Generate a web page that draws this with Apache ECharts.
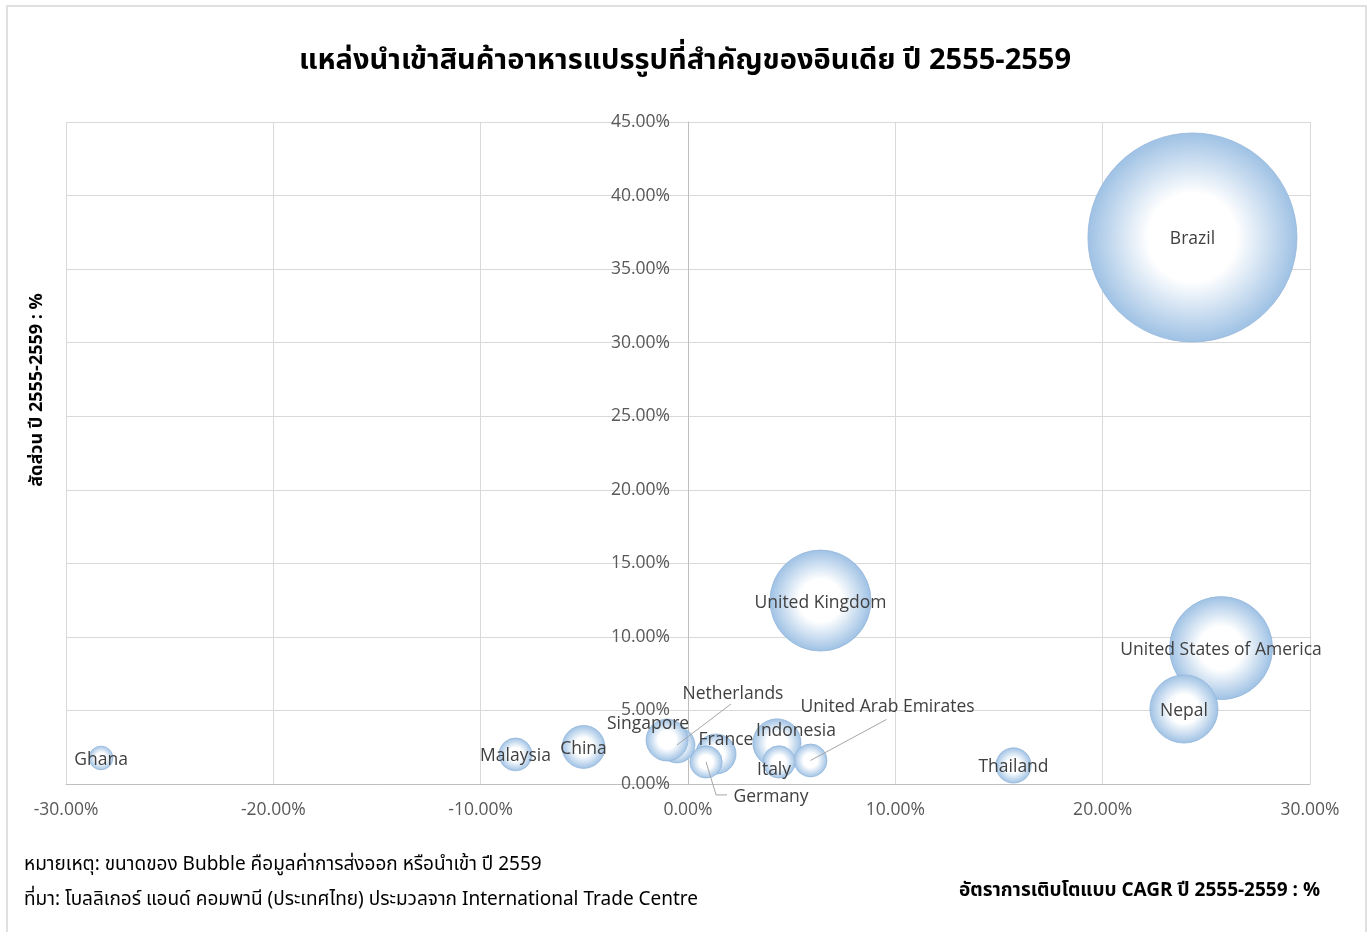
<!DOCTYPE html>
<html>
<head>
<meta charset="utf-8">
<title>แหล่งนำเข้าสินค้าอาหารแปรรูปที่สำคัญของอินเดีย</title>
<script src="https://cdn.jsdelivr.net/npm/echarts@6/dist/echarts.min.js"></script>
<style>
  html, body { margin: 0; padding: 0; background: #fff; }
  #chart { width: 1370px; height: 932px; }
</style>
</head>
<body>
<div id="chart"></div>
<script>
// Importing countries, CAGR 2555-2559 (%), share 2555-2559 (%), import value 2559 (bubble size)
const countries = ['Brazil', 'United Kingdom', 'United States of America', 'Nepal', 'Thailand',
  'Indonesia', 'United Arab Emirates', 'Italy', 'France', 'Germany', 'Netherlands',
  'Singapore', 'China', 'Malaysia', 'Ghana'];
const cagr = [24.33, 6.39, 25.71, 23.92, 15.70, 4.29, 5.91, 4.39, 1.35, 0.87, -0.53, -1.01, -5.04, -8.32, -28.31];
const share = [37.15, 12.47, 9.24, 5.10, 1.26, 2.79, 1.60, 1.50, 2.04, 1.50, 2.65, 2.99, 2.52, 2.01, 1.77];
const importValue = [1092, 255, 265, 116, 31, 58, 27, 26, 40, 26, 32, 44, 46, 27, 14];

const xTicks = [-30, -20, -10, 0, 10, 20, 30];
const yTicks = [0, 5, 10, 15, 20, 25, 30, 35, 40, 45];

// label placement for crowded bubbles (pixel offsets from the bubble centre)
const labelShift = {
  'Singapore': [-19, -16],
  'Netherlands': [56, -51],
  'France': [10, -14],
  'Indonesia': [19, -12],
  'Italy': [-5, 8],
  'United Arab Emirates': [77, -53],
  'Germany': [65, 35]
};
// leader-line bends, relative to the bubble centre
const leaderPath = {
  'Netherlands': [[54, -41]],
  'United Arab Emirates': [[76, -41]],
  'Germany': [[10, 33], [21, 33]]
};

const maxValue = Math.max.apply(null, importValue);
const maxDiameter = 209;

const GRID_LEFT = 66, GRID_RIGHT = 60;
const CHART_W = 1370;

const thaiFont = '"Noto Sans Thai", "Liberation Sans", Arial, sans-serif';
const labelFont = '"Open Sans", "Noto Sans", sans-serif';

const bubbleFill = {
  type: 'radial', x: 0.5, y: 0.5, r: 0.5,
  colorStops: [
    { offset: 0, color: '#ffffff' },
    { offset: 0.42, color: '#ffffff' },
    { offset: 1, color: '#9ec1e4' }
  ]
};

const data = countries.map(function (name, i) {
  return { name: name, value: [cagr[i], share[i], importValue[i]] };
});

// the value axis crosses the category axis at x = 0
const plotW = CHART_W - GRID_LEFT - GRID_RIGHT;
const zeroOffset = plotW * (0 - xTicks[0]) / (xTicks[xTicks.length - 1] - xTicks[0]);

const pctFmt = function (v) { return v.toFixed(2) + '%'; };

const chart = echarts.init(document.getElementById('chart'), null, { renderer: 'canvas' });

const baseGraphics = [
  {
    type: 'rect',
    shape: { x: 7, y: 6, width: 1359, height: 940 },
    style: { fill: 'none', stroke: '#e0e0e0', lineWidth: 2 },
    silent: true
  },
  {
    type: 'text',
    x: 38, y: 390,
    rotation: Math.PI / 2,
    style: {
      text: 'สัดส่วน ปี 2555-2559 : %',
      fontFamily: thaiFont, fontSize: 18, fontWeight: 'bold', fill: '#000',
      align: 'center', verticalAlign: 'middle'
    }
  },
  {
    type: 'text',
    x: 24, y: 866,
    style: {
      text: 'หมายเหตุ: ขนาดของ Bubble คือมูลค่าการส่งออก หรือนำเข้า ปี 2559',
      fontFamily: thaiFont, fontSize: 19, fill: '#000',
      align: 'left', verticalAlign: 'middle'
    }
  },
  {
    type: 'text',
    x: 24, y: 901,
    style: {
      text: 'ที่มา: โบลลิเกอร์ แอนด์ คอมพานี (ประเทศไทย) ประมวลจาก International Trade Centre',
      fontFamily: thaiFont, fontSize: 19, fill: '#000',
      align: 'left', verticalAlign: 'middle'
    }
  },
  {
    type: 'text',
    x: 1320, y: 892,
    style: {
      text: 'อัตราการเติบโตแบบ CAGR ปี 2555-2559 : %',
      fontFamily: thaiFont, fontSize: 19, fontWeight: 'bold', fill: '#000',
      align: 'right', verticalAlign: 'middle'
    }
  }
];

chart.setOption({
  backgroundColor: '#ffffff',
  animation: false,
  title: {
    text: 'แหล่งนำเข้าสินค้าอาหารแปรรูปที่สำคัญของอินเดีย ปี 2555-2559',
    left: 'center',
    top: 44,
    textStyle: { fontFamily: thaiFont, fontSize: 29, fontWeight: 'bold', color: '#000' }
  },
  grid: { left: GRID_LEFT, right: GRID_RIGHT, top: 122, bottom: 148, containLabel: false, outerBoundsMode: 'none' },
  xAxis: {
    type: 'value',
    min: xTicks[0],
    max: xTicks[xTicks.length - 1],
    interval: 10,
    axisLine: { show: true, onZero: false, lineStyle: { color: '#bfbfbf' } },
    axisTick: { show: false },
    axisLabel: { margin: 17, color: '#595959', fontFamily: labelFont, fontSize: 17.5, formatter: pctFmt },
    splitLine: { show: true, lineStyle: { color: '#d9d9d9', width: 1 } }
  },
  yAxis: {
    type: 'value',
    min: yTicks[0],
    max: yTicks[yTicks.length - 1],
    interval: 5,
    offset: -zeroOffset,
    axisLine: { show: true, onZero: false, lineStyle: { color: '#bfbfbf' } },
    axisTick: { show: false },
    axisLabel: { margin: 18, color: '#595959', fontFamily: labelFont, fontSize: 17.5, formatter: pctFmt },
    splitLine: { show: true, lineStyle: { color: '#d9d9d9', width: 1 } }
  },
  series: [{
    type: 'scatter',
    data: data,
    z: 3,
    symbolSize: function (val) { return maxDiameter * Math.sqrt(val[2] / maxValue); },
    itemStyle: { color: bubbleFill, borderColor: '#94b6da', borderWidth: 0.8, opacity: 1 },
    label: {
      show: true,
      position: 'inside',
      formatter: '{b}',
      color: '#404040',
      fontFamily: labelFont,
      fontSize: 17.5
    },
    labelLayout: function (p) {
      const s = labelShift[countries[p.dataIndex]];
      return s ? { dx: s[0], dy: s[1] } : { dy: 2 };
    },
    emphasis: { disabled: true }
  }],
  graphic: baseGraphics
});

// leader lines from the bubble centres (through the chart's own scales) to their shifted labels
const leaders = Object.keys(leaderPath).map(function (name) {
  const i = countries.indexOf(name);
  const c = chart.convertToPixel({ seriesIndex: 0 }, [cagr[i], share[i]]);
  const pts = [c].concat(leaderPath[name].map(function (d) { return [c[0] + d[0], c[1] + d[1]]; }));
  return {
    type: 'polyline',
    z: 100,
    shape: { points: pts },
    style: { stroke: '#a6a6a6', lineWidth: 1, fill: 'none' },
    silent: true
  };
});
chart.setOption({ graphic: baseGraphics.concat(leaders) });
</script>
</body>
</html>
